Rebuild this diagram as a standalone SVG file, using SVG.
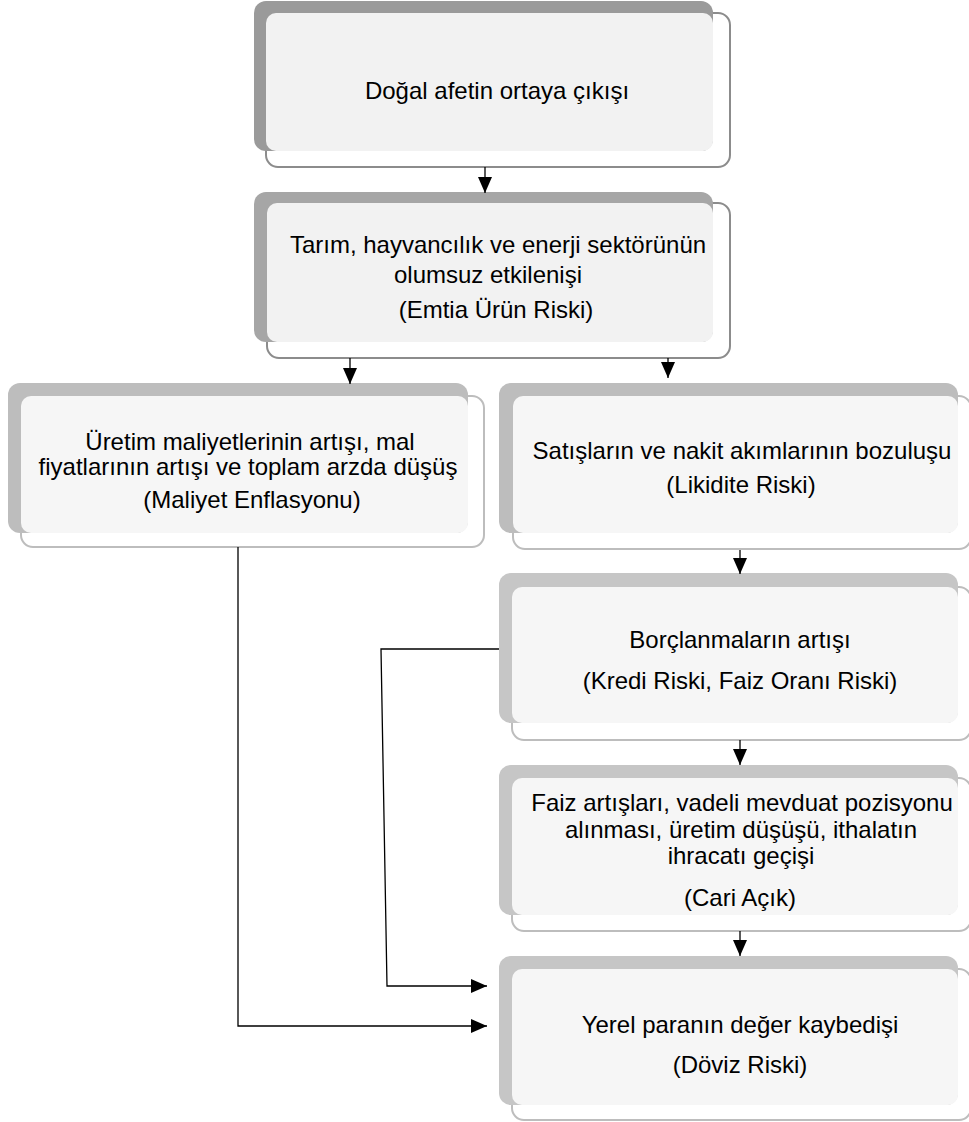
<svg xmlns="http://www.w3.org/2000/svg" width="969" height="1122" viewBox="0 0 969 1122">
<style>
.front{fill:#ffffff;stroke:#bdbdbd;stroke-width:2}
.front.dark{stroke:#8c8c8c}
.back{fill:#c6c6c6}
.fill{fill:#f6f6f6}
.fill.dark{fill:#f2f2f2}
text{font-family:"Liberation Sans",Arial,sans-serif;font-size:24px;fill:#000;text-anchor:middle}
.conn{fill:none;stroke:#000;stroke-width:1.3}
</style>
<defs>
<marker id="arr" viewBox="0 0 16 14" refX="16" refY="7" markerWidth="16" markerHeight="14" markerUnits="userSpaceOnUse" orient="auto">
<path d="M0,0 L16,7 L0,14 z" fill="#000"/>
</marker>
</defs>
<rect width="969" height="1122" fill="#fff"/>
<g id="n1">
<rect class="front dark" x="266" y="13" width="464" height="154" rx="12"/>
<rect class="back" x="254" y="1" width="459" height="150" rx="12" style="fill:#9a9a9a"/>
<rect class="fill dark" x="266" y="13" width="447" height="138" rx="10"/>
<text x="497" y="99">Doğal afetin ortaya çıkışı</text>
</g>
<g id="n2">
<rect class="front dark" x="267" y="203" width="463" height="155" rx="12"/>
<rect class="back" x="254" y="192" width="459" height="150" rx="12" style="fill:#a6a6a6"/>
<rect class="fill dark" x="267" y="203" width="446" height="139" rx="10"/>
<text x="498" y="253">Tarım, hayvancılık ve enerji sektörünün</text>
<text x="488" y="283">olumsuz etkilenişi</text>
<text x="496" y="318">(Emtia Ürün Riski)</text>
</g>
<g id="n3">
<rect class="front" x="21" y="396" width="463" height="151" rx="12"/>
<rect class="back" x="8" y="383" width="460" height="150" rx="12" style="fill:#bdbdbd"/>
<rect class="fill" x="21" y="396" width="447" height="137" rx="10"/>
<text x="250" y="450">Üretim maliyetlerinin artışı, mal</text>
<text x="248" y="475">fiyatlarının artışı ve toplam arzda düşüş</text>
<text x="252" y="508">(Maliyet Enflasyonu)</text>
</g>
<g id="n4">
<rect class="front" x="513" y="396" width="458" height="153" rx="12"/>
<rect class="back" x="499" y="383" width="459" height="150" rx="12" style="fill:#bdbdbd"/>
<rect class="fill" x="513" y="396" width="445" height="137" rx="10"/>
<text x="742" y="459">Satışların ve nakit akımlarının bozuluşu</text>
<text x="741" y="493">(Likidite Riski)</text>
</g>
<g id="n5">
<rect class="front" x="512" y="587" width="459" height="153" rx="12"/>
<rect class="back" x="499" y="573" width="459" height="150" rx="12"/>
<rect class="fill" x="512" y="587" width="446" height="136" rx="10"/>
<text x="740" y="648">Borçlanmaların artışı</text>
<text x="740" y="689">(Kredi Riski, Faiz Oranı Riski)</text>
</g>
<g id="n6">
<rect class="front" x="512" y="778" width="459" height="153" rx="12"/>
<rect class="back" x="499" y="765" width="459" height="150" rx="12"/>
<rect class="fill" x="512" y="778" width="446" height="137" rx="10"/>
<text x="742" y="811">Faiz artışları, vadeli mevduat pozisyonu</text>
<text x="741" y="838">alınması, üretim düşüşü, ithalatın</text>
<text x="741" y="864">ihracatı geçişi</text>
<text x="740" y="906">(Cari Açık)</text>
</g>
<g id="n7">
<rect class="front" x="512" y="969" width="459" height="151" rx="12"/>
<rect class="back" x="499" y="956" width="459" height="149" rx="12"/>
<rect class="fill" x="512" y="969" width="446" height="136" rx="10"/>
<text x="740" y="1033">Yerel paranın değer kaybedişi</text>
<text x="740" y="1073">(Döviz Riski)</text>
</g>
<g id="connectors">
<path class="conn" d="M485,167 V193" marker-end="url(#arr)"/>
<path class="conn" d="M350,358 V384" marker-end="url(#arr)"/>
<path class="conn" d="M668,358 V378" marker-end="url(#arr)"/>
<path class="conn" d="M740,550 V574" marker-end="url(#arr)"/>
<path class="conn" d="M740,740 V765" marker-end="url(#arr)"/>
<path class="conn" d="M740,931 V956" marker-end="url(#arr)"/>
<path class="conn" d="M238,547 V1026 H487" marker-end="url(#arr)"/>
<path class="conn" d="M499,649 H381 L387,986 H487" marker-end="url(#arr)"/>
</g>
</svg>
